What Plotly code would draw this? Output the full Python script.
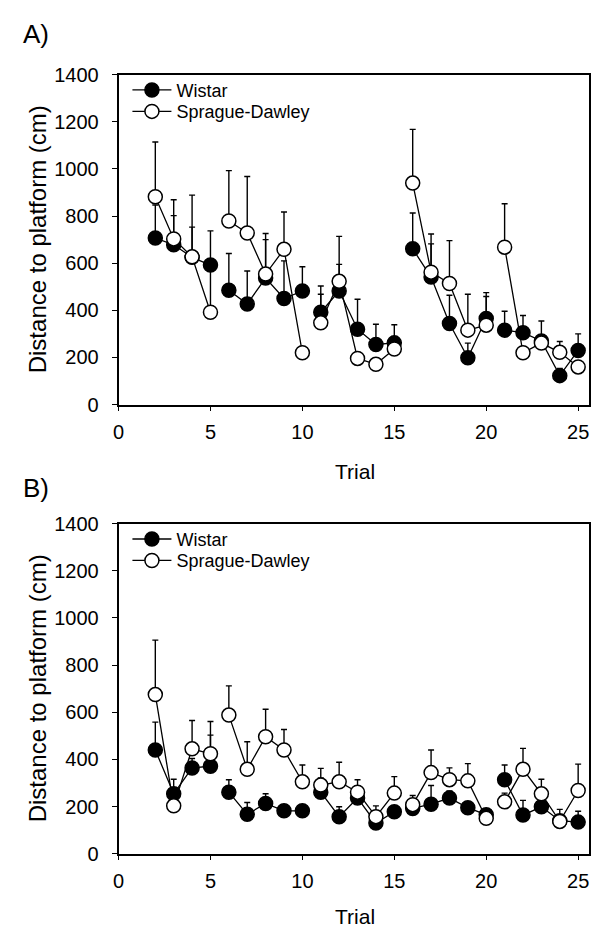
import plotly.graph_objects as go

trials = [2, 3, 4, 5, 6, 7, 8, 9, 10, 11, 12, 13, 14, 15, 16, 17, 18, 19, 20, 21, 22, 23, 24, 25]
block_starts = [6, 11, 16, 21]  # lines are broken before these trials

# Panel A
a_wistar = [707, 678, 625, 592, 485, 427, 537, 450, 482, 392, 482, 320, 255, 262,
            661, 541, 344, 199, 365, 316, 305, 270, 123, 230]
a_wistar_err = [140, 124, 128, 145, 156, 140, 163, 160, 103, 111, 113, 127, 86, 77,
                152, 183, 120, 62, 110, 80, 73, 85, 30, 70]
a_sd = [882, 703, 627, 392, 779, 728, 554, 659, 220, 347, 523, 196, 171, 236,
        940, 562, 514, 316, 337, 668, 220, 261, 222, 160]
a_sd_err = [232, 166, 262, 190, 214, 240, 172, 158, 25, 121, 191, 20, 15, 15,
            228, 120, 182, 152, 122, 184, 20, 20, 46, 20]

# Panel B
b_wistar = [440, 254, 364, 371, 261, 167, 213, 182, 182, 261, 157, 236, 130, 178,
            192, 210, 236, 195, 165, 314, 164, 199, 140, 134]
b_wistar_err = [118, 62, 40, 132, 53, 50, 41, 20, 20, 60, 42, 20, 20, 20,
                20, 79, 30, 20, 10, 62, 62, 30, 10, 46]
b_sd = [675, 203, 445, 424, 588, 358, 496, 440, 305, 291, 305, 261, 157, 257,
        208, 344, 314, 309, 150, 220, 358, 254, 137, 268]
b_sd_err = [231, 20, 120, 137, 124, 117, 117, 87, 71, 71, 83, 53, 46, 70,
            39, 96, 50, 73, 10, 37, 89, 62, 51, 112]

x_ticks = [0, 5, 10, 15, 20, 25]
y_ticks = [0, 200, 400, 600, 800, 1000, 1200, 1400]
series_names = ["Wistar", "Sprague-Dawley"]
y_title = "Distance to platform (cm)"
x_title = "Trial"
panel_labels = ["A)", "B)"]


def with_breaks(xs, *cols):
    out_x = []
    out_cols = [[] for _ in cols]
    for i, t in enumerate(xs):
        if t in block_starts:
            out_x.append(None)
            for oc in out_cols:
                oc.append(None)
        out_x.append(t)
        for oc, c in zip(out_cols, cols):
            oc.append(c[i])
    return out_x, out_cols


FONT = "Liberation Sans, Arial, sans-serif"
PAGE_W, PAGE_H = 599, 942
OFF = 8  # default page body margin
W, H = PAGE_W - 2 * OFF, PAGE_H - 2 * OFF


def px(x):
    return min(1.0, max(0.0, (x - OFF) / W))


def py(y):
    return min(1.0, max(0.0, 1 - (y - OFF) / H))


fig = go.Figure()


def add_series(vals, errs, filled, name, xa, ya, legend):
    xs, (v, e) = with_breaks(trials, vals, errs)
    zeros = [None if z is None else 0 for z in e]
    fig.add_trace(go.Scatter(
        x=xs, y=v, name=name, mode="lines+markers", xaxis=xa, yaxis=ya,
        legend=legend, connectgaps=False,
        line=dict(color="black", width=1.3),
        marker=dict(size=14, color="black" if filled else "white",
                    line=dict(color="black", width=1.5)),
        error_y=dict(type="data", symmetric=False, array=e, arrayminus=zeros,
                     color="black", thickness=1.4, width=3),
    ))


add_series(a_wistar, a_wistar_err, True, series_names[0], "x", "y", "legend")
add_series(a_sd, a_sd_err, False, series_names[1], "x", "y", "legend2")
add_series(b_wistar, b_wistar_err, True, series_names[0], "x2", "y2", "legend3")
add_series(b_sd, b_sd_err, False, series_names[1], "x2", "y2", "legend4")

X_LEFT, X_RIGHT = 114, 594
x_per_unit = (580 - X_LEFT) / 25
right_px = min(X_RIGHT, OFF + W)
x_max = (right_px - X_LEFT) / x_per_unit

x_dom = [px(X_LEFT), px(right_px)]
A_top, A_bot = 65, 403
B_top, B_bot = 525, 863
A_dom = [py(A_bot), py(A_top)]
B_dom = [py(B_bot), py(B_top)]

xax = dict(range=[0, x_max], tickvals=x_ticks, ticks="outside", ticklen=5,
           tickwidth=1.3, tickcolor="black", showline=True, linecolor="black",
           linewidth=1.6, mirror=True, showgrid=False, zeroline=False,
           tickfont=dict(family=FONT, size=20, color="black"),
           ticklabelstandoff=4, domain=x_dom)
yax = dict(range=[0, 1400], tickvals=y_ticks, ticks="outside", ticklen=5,
           tickwidth=1.3, tickcolor="black", showline=True, linecolor="black",
           linewidth=1.6, mirror=True, showgrid=False, zeroline=False,
           tickfont=dict(family=FONT, size=20, color="black"),
           ticklabelstandoff=9)

legend_common = dict(bgcolor="rgba(0,0,0,0)", borderwidth=0,
                     font=dict(family=FONT, size=18, color="black"),
                     xanchor="left", yanchor="top", tracegroupgap=0,
                     itemwidth=39)

LEG_X = 123
fig.update_layout(
    width=W, height=H, margin=dict(l=0, r=0, t=0, b=0),
    paper_bgcolor="white", plot_bgcolor="white",
    xaxis=dict(xax, anchor="y"),
    yaxis=dict(yax, domain=A_dom, anchor="x"),
    xaxis2=dict(xax, anchor="y2"),
    yaxis2=dict(yax, domain=B_dom, anchor="x2"),
    legend=dict(legend_common, x=px(LEG_X), y=py(A_top - 3)),
    legend2=dict(legend_common, x=px(LEG_X), y=py(A_top + 19)),
    legend3=dict(legend_common, x=px(LEG_X), y=py(B_top - 3)),
    legend4=dict(legend_common, x=px(LEG_X), y=py(B_top + 19)),
    showlegend=True,
)

# axis titles and panel labels
for top, bot, trial_y, lab_y, lab in ((A_top, A_bot, 471, 23, panel_labels[0]),
                                      (B_top, B_bot, 927, 488, panel_labels[1])):
    fig.add_annotation(text=y_title, x=px(32), y=py((top + bot) / 2),
                       xref="paper", yref="paper", textangle=-90,
                       showarrow=False, xanchor="center", yanchor="middle",
                       font=dict(family=FONT, size=24, color="black"))
    fig.add_annotation(text=x_title, x=px(354), y=py(trial_y),
                       xref="paper", yref="paper", showarrow=False,
                       xanchor="center", yanchor="middle",
                       font=dict(family=FONT, size=21, color="black"))
    fig.add_annotation(text=lab, x=px(15), y=py(lab_y), xref="paper",
                       yref="paper", showarrow=False, xanchor="left",
                       yanchor="middle",
                       font=dict(family=FONT, size=26, color="black"))

fig.write_html("out.html")
